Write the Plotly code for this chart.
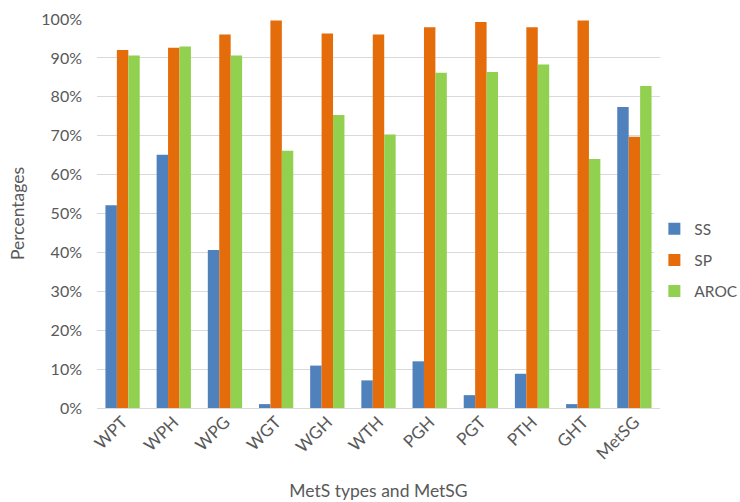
import plotly.graph_objects as go

categories = ["WPT", "WPH", "WPG", "WGT", "WGH", "WTH", "PGH", "PGT", "PTH", "GHT", "MetSG"]
ss_values = [52.1, 65.1, 40.6, 1.0, 10.9, 7.1, 12.0, 3.3, 8.8, 1.0, 77.4]
sp_values = [92.0, 92.6, 96.0, 99.6, 96.3, 96.0, 97.9, 99.2, 97.9, 99.6, 69.7]
aroc_values = [90.6, 92.9, 90.6, 66.1, 75.3, 70.3, 86.2, 86.4, 88.3, 64.0, 82.8]
y_ticks = list(range(0, 101, 10))

text_color = "#595959"
font_family = "Lato, Open Sans, sans-serif"

fig = go.Figure()
for name, vals, color in [("SS", ss_values, "#4F81BD"),
                          ("SP", sp_values, "#E46C0A"),
                          ("AROC", aroc_values, "#92D050")]:
    fig.add_trace(go.Bar(name=name, x=categories, y=vals, marker_color=color,
                         marker_line_width=0, legendgroup=name))

fig.update_layout(
    width=740, height=502,
    margin=dict(l=97, r=80, t=19, b=94, autoexpand=False),
    paper_bgcolor="white", plot_bgcolor="white",
    barmode="group", bargap=0.33, bargroupgap=0,
    font=dict(family=font_family, size=16, color=text_color),
    legend=dict(x=0.99, y=0.38, xanchor="left", yanchor="middle",
                font=dict(size=15.5, color=text_color), tracegroupgap=8),
    xaxis=dict(
        title=dict(text="MetS types and MetSG", font=dict(size=17.5, color=text_color), standoff=22),
        tickangle=-45, showgrid=False, showline=False, ticks="",
        tickfont=dict(size=17, color=text_color),
    ),
    yaxis=dict(
        title=dict(text="Percentages", font=dict(size=17.5, color=text_color), standoff=12),
        range=[0, 100], tickvals=y_ticks, ticktext=[f"{v}%" for v in y_ticks],
        showgrid=True, gridcolor="#D9D9D9", gridwidth=1, zeroline=True,
        zerolinecolor="#D9D9D9", zerolinewidth=1, showline=False, ticks="",
        ticklabelstandoff=14, tickfont=dict(size=16, color=text_color),
    ),
)

fig.write_html("out.html")
